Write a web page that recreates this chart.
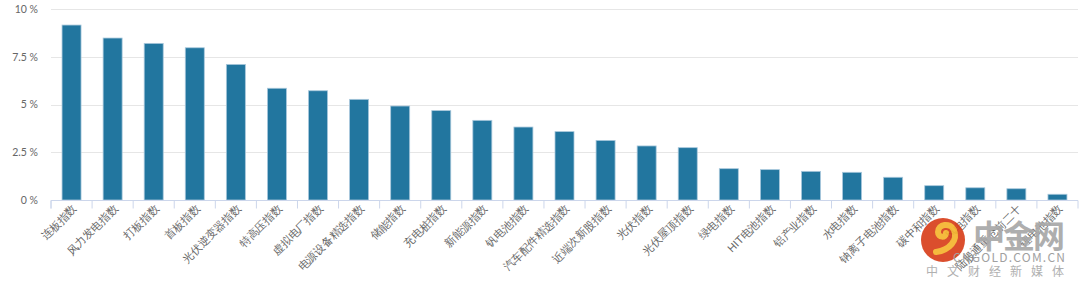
<!DOCTYPE html>
<html>
<head>
<meta charset="utf-8">
<script src="https://cdn.jsdelivr.net/npm/d3@7"></script>
<style>
  body { margin: 0; background: #fff; }
  svg { display: block; font-family: "Noto Sans CJK SC", "Noto Sans", sans-serif; }
</style>
</head>
<body>
<div class="svgContainer"></div>
<script>
let categories = [
  "连板指数", "风力发电指数", "打板指数", "首板指数", "光伏逆变器指数",
  "特高压指数", "虚拟电厂指数", "电源设备精选指数", "储能指数", "充电桩指数",
  "新能源指数", "钒电池指数", "汽车配件精选指数", "近端次新股指数", "光伏指数",
  "光伏屋顶指数", "绿电指数", "HIT电池指数", "铝产业指数", "水电指数",
  "钠离子电池指数", "碳中和指数", "风电指数", "陆股通重仓前二十", "锂电池指数"
];
let values = [
  9.16, 8.48, 8.2, 7.97, 7.1,
  5.85, 5.72, 5.27, 4.92, 4.68,
  4.17, 3.82, 3.58, 3.12, 2.83,
  2.74, 1.64, 1.59, 1.5, 1.45,
  1.19, 0.75, 0.64, 0.59, 0.3
];
let yTicks = [0, 2.5, 5, 7.5, 10];

let width = 1080,
  height = 287,
  plotLeft = 51,
  plotRight = 1078,
  plotTop = 9,
  plotBottom = 200;

let svg = d3
  .select(".svgContainer")
  .append("svg")
  .attr("width", width)
  .attr("height", height);

let xScale = d3
  .scaleBand()
  .domain(categories)
  .range([plotLeft, plotRight])
  .paddingInner(0)
  .paddingOuter(0);

let yScale = d3
  .scaleLinear()
  .domain([0, 10])
  .range([plotBottom, plotTop]);

// gridlines
svg
  .append("g")
  .selectAll("line")
  .data(yTicks.filter(d => d > 0))
  .enter()
  .append("line")
  .attr("x1", plotLeft)
  .attr("x2", plotRight)
  .attr("y1", d => Math.round(yScale(d)) + 0.5)
  .attr("y2", d => Math.round(yScale(d)) + 0.5)
  .style("stroke", "#e6e6e6")
  .style("stroke-width", 1);

// y labels
let yAxis = d3
  .axisLeft(yScale)
  .tickValues(yTicks)
  .tickSize(0)
  .tickPadding(0)
  .tickFormat(d => d + " %");

let yAxisGroup = svg
  .append("g")
  .attr("transform", "translate(38, 0)")
  .call(yAxis);
yAxisGroup.select(".domain").remove();
yAxisGroup
  .selectAll("text")
  .style("fill", "#666")
  .style("font-size", "10.5px")
  .style("font-family", "Lato, 'Noto Sans', sans-serif");

// bars
let barWidth = 19;
svg
  .append("g")
  .selectAll("rect")
  .data(values)
  .enter()
  .append("rect")
  .attr("x", (d, i) => xScale(categories[i]) + xScale.bandwidth() / 2 - barWidth / 2)
  .attr("y", d => yScale(d))
  .attr("width", barWidth)
  .attr("height", d => plotBottom - yScale(d))
  .style("fill", "#22769f")
  .style("stroke", "#a9c8dc")
  .style("stroke-width", 0.8);

// x axis
let xAxis = d3
  .axisBottom(xScale)
  .tickSize(8)
  .tickPadding(4);

let xAxisGroup = svg
  .append("g")
  .attr("transform", "translate(0, " + (plotBottom + 0.5) + ")")
  .call(xAxis);

xAxisGroup
  .select(".domain")
  .style("stroke", "#ccd6eb")
  .attr("d", "M" + plotLeft + ",8V0H" + plotRight + "V8");
xAxisGroup
  .selectAll(".tick line")
  .attr("transform", "translate(" + (-xScale.bandwidth() / 2) + ", 0)")
  .style("stroke", "#ccd6eb");

xAxisGroup
  .selectAll("text")
  .style("fill", "#666")
  .style("font-size", "11px")
  .style("text-anchor", "end")
  .attr("dy", "0.35em")
  .attr("transform", "translate(3, 6) rotate(-45)")
  .attr("x", 0)
  .attr("y", 0);

// watermark (site logo drawn over the chart)
let mark = svg.append("g").attr("opacity", 0.92);
mark
  .append("circle")
  .attr("cx", 943)
  .attr("cy", 240)
  .attr("r", 22)
  .style("fill", "#d8401c");
mark
  .append("path")
  .attr("d", "M936,252 C950,250 958,240 954,230 C950,222 938,224 938,232 C938,238 946,238 946,233")
  .style("fill", "none")
  .style("stroke", "#f5b52e")
  .style("stroke-width", 6)
  .style("stroke-linecap", "round");
mark
  .append("text")
  .attr("x", 973)
  .attr("y", 248)
  .attr("textLength", 92)
  .text("中金网")
  .style("font-size", "32px")
  .style("font-weight", "bold")
  .style("fill", "#a8a8a8");
mark
  .append("text")
  .attr("x", 953)
  .attr("y", 262)
  .attr("textLength", 112)
  .text("CNGOLD.COM.CN")
  .style("font-size", "12px")
  .style("fill", "#999");
mark
  .append("text")
  .attr("x", 926)
  .attr("y", 276)
  .attr("textLength", 138)
  .text("中文财经新媒体")
  .style("font-size", "12px")
  .style("fill", "#aaa");
</script>
</body>
</html>
